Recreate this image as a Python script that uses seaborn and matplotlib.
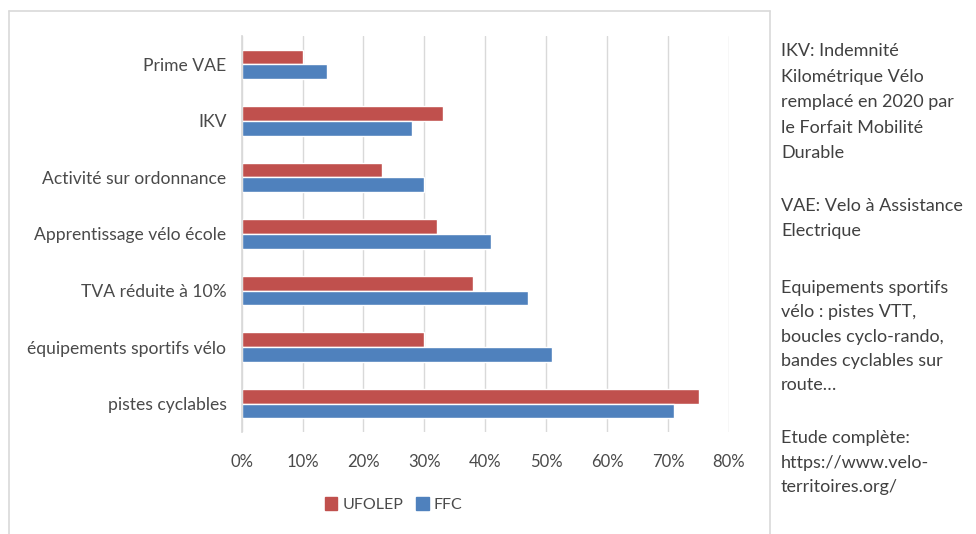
import pandas as pd
import numpy as np
import matplotlib.pyplot as plt
import seaborn as sns
from matplotlib.lines import Line2D
from matplotlib.patches import Patch

# ── data ─────────────────────────────────
categories = ["Prime VAE", "IKV", "Activité sur ordonnance",
              "Apprentissage vélo école", "TVA réduite à 10%",
              "équipements sportifs vélo", "pistes cyclables"]
ufolep = [0.10, 0.33, 0.23, 0.32, 0.38, 0.30, 0.75]
ffc = [0.14, 0.28, 0.30, 0.41, 0.47, 0.51, 0.71]
series = ["UFOLEP", "FFC"]
x_ticks = [0, 0.1, 0.2, 0.3, 0.4, 0.5, 0.6, 0.7, 0.8]
x_ticklabels = ["0%", "10%", "20%", "30%", "40%", "50%", "60%", "70%", "80%"]

notes = [
    ["IKV: Indemnité", "Kilométrique Vélo", "remplacé en 2020 par",
     "le Forfait Mobilité", "Durable"],
    ["VAE: Velo à Assistance", "Electrique"],
    ["Equipements sportifs", "vélo : pistes VTT,", "boucles cyclo-rando,",
     "bandes cyclables sur", "route…"],
    ["Etude complète:", "https://www.velo-", "territoires.org/"],
]

df = pd.DataFrame({
    "categorie": categories * 2,
    "valeur": ufolep + ffc,
    "federation": [series[0]] * len(categories) + [series[1]] * len(categories),
})

# ── style ────────────────────────────────
sns.set_theme(style="white")
plt.rcParams["font.family"] = ["Lato", "DejaVu Sans"]
colors = {"UFOLEP": "#C0504D", "FFC": "#4F81BD"}
text_col = "#4A4A4A"
grid_col = "#D9D9D9"

fig = plt.figure(figsize=(9.76, 5.34), dpi=100)
ax = fig.add_axes([0.2476, 0.191, 0.4993, 0.7416])

sns.barplot(data=df, y="categorie", x="valeur", hue="federation",
            hue_order=series, order=categories, palette=colors,
            width=0.52, orient="h", ax=ax, legend=False, saturation=1)

ax.set_xlim(0, 0.8)
ax.set_ylim(6.5, -0.5)
ax.set_xticks(x_ticks)
ax.set_xticklabels(x_ticklabels)
ax.set_xlabel("")
ax.set_ylabel("")
ax.xaxis.grid(True, color=grid_col, linewidth=1)
ax.set_axisbelow(True)
for s in ["top", "right", "bottom"]:
    ax.spines[s].set_visible(False)
ax.spines["left"].set_color(grid_col)
ax.tick_params(axis="y", length=0, labelsize=12.6, colors=text_col, pad=11)
ax.tick_params(axis="x", length=0, labelsize=12, colors=text_col, pad=16)

# legend
handles = [Patch(color=colors[s], label=s) for s in series]
fig.legend(handles=handles, loc="center", bbox_to_anchor=(0.403, 0.055),
           ncol=2, frameon=False, fontsize=11.5, handlelength=0.8,
           handleheight=0.8, handletextpad=0.3, columnspacing=0.8,
           labelcolor=text_col)

# chart frame
fx0, fx1, fy1 = 9 / 976, 770 / 976, 1 - 11 / 534
for xs, ys in [([fx0, fx1], [fy1, fy1]), ([fx0, fx0], [0, fy1]), ([fx1, fx1], [0, fy1])]:
    fig.add_artist(Line2D(xs, ys, color=grid_col, linewidth=1.2, transform=fig.transFigure))

# side notes (first baseline of each paragraph, in px from top)
note_base = [56, 211, 293, 443]
note_step = [25.6, 24.8, 24.3, 24.6]
for lines, y0, step in zip(notes, note_base, note_step):
    for i, line in enumerate(lines):
        fig.text(781 / 976, 1 - (y0 + i * step) / 534, line,
                 ha="left", va="baseline", fontsize=13.0, color="#404040")

plt.savefig("out.png", dpi=100)
plt.close()
